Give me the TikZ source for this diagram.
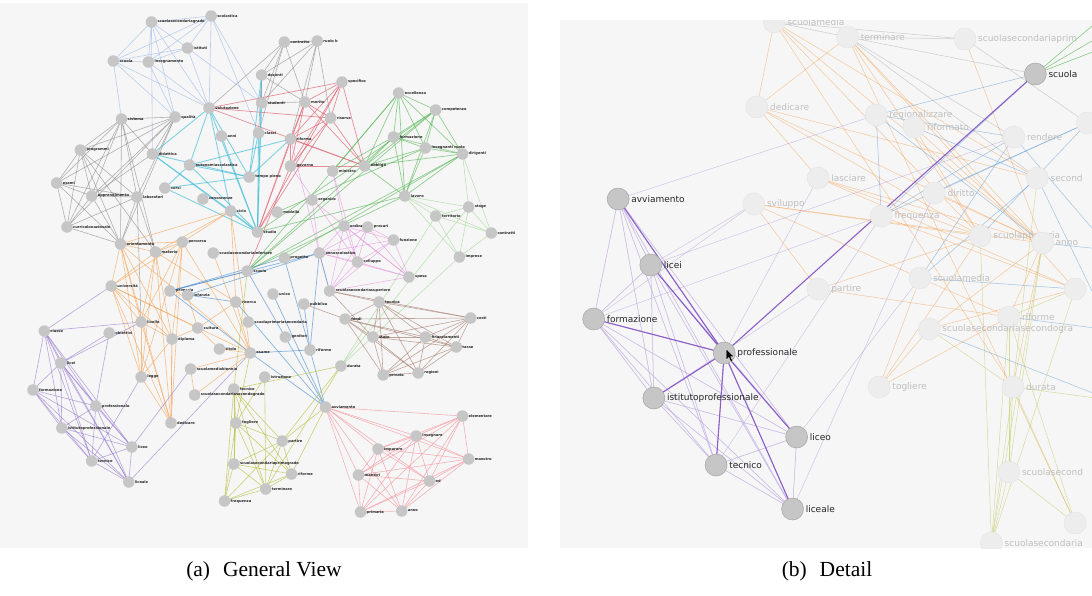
\documentclass[tikz,border=0pt]{standalone}
\usepackage{fontspec}
\setmainfont{Liberation Serif}
\newfontfamily\labfont{DejaVu Sans}
\definecolor{cLB}{HTML}{A8C0E8}
\definecolor{cGR}{HTML}{8A8A8A}
\definecolor{cRD}{HTML}{E06070}
\definecolor{cGN}{HTML}{58B858}
\definecolor{cLG}{HTML}{A8DCA0}
\definecolor{cCY}{HTML}{40BED8}
\definecolor{cPK}{HTML}{E48CDC}
\definecolor{cOR}{HTML}{F5A050}
\definecolor{cBL}{HTML}{4A8ED0}
\definecolor{cBR}{HTML}{A07868}
\definecolor{cPU}{HTML}{9878D0}
\definecolor{cOL}{HTML}{B8C040}
\definecolor{cLR}{HTML}{F4A0A8}
\definecolor{panelbg}{HTML}{F6F6F6}
\definecolor{ngray}{HTML}{C6C6C6}
\definecolor{strongpu}{HTML}{8C5FC8}
\newcommand\clq[2]{\foreach \i in {#2}{\foreach \j in {#2}{\ifnum\i<\j\relax \draw[#1] (a\i) -- (a\j);\fi}}}
\newcommand\prs[2]{\foreach \i/\j in {#2}{\draw[#1] (a\i) -- (a\j);}}
\newcommand\bprs[2]{\foreach \i/\j in {#2}{\draw[#1] (\i) -- (\j);}}
\tikzset{
  eLB/.style={cLB, line width=0.6pt, opacity=0.75},
  eGR/.style={cGR, line width=0.6pt, opacity=0.65},
  eRD/.style={cRD, line width=0.7pt, opacity=0.7},
  eGN/.style={cGN, line width=0.7pt, opacity=0.65},
  eLG/.style={cLG, line width=0.6pt, opacity=0.75},
  eCY/.style={cCY, line width=0.9pt, opacity=0.65},
  ePK/.style={cPK, line width=0.6pt, opacity=0.6},
  eOR/.style={cOR, line width=0.6pt, opacity=0.65},
  eBL/.style={cBL, line width=0.7pt, opacity=0.65},
  eBR/.style={cBR, line width=0.6pt, opacity=0.65},
  ePU/.style={cPU, line width=0.6pt, opacity=0.65},
  eOL/.style={cOL, line width=0.6pt, opacity=0.7},
  eLR/.style={cLR, line width=0.6pt, opacity=0.8},
  an/.style={circle, fill=ngray, inner sep=0pt, minimum size=11.5pt},
  al/.style={anchor=west, inner sep=0pt, font=\labfont\bfseries\fontsize{3.6}{4}\selectfont, text=black!85},
  bn/.style={circle, fill=ngray, draw=black!35, line width=0.5pt, inner sep=0pt, minimum size=22pt},
  bl/.style={anchor=west, inner sep=0pt, font=\labfont\fontsize{9}{10}\selectfont, text=black!85},
  fn/.style={circle, fill=black!7, draw=black!10, line width=0.5pt, inner sep=0pt, minimum size=22pt},
  fl/.style={anchor=west, inner sep=0pt, font=\labfont\fontsize{9}{10}\selectfont, text=black!25},
  strong/.style={strongpu, line width=1.1pt},
  weak/.style={cPU!60, line width=0.5pt, opacity=0.6},
  fOR/.style={cOR, line width=0.5pt, opacity=0.55},
  fBL/.style={cBL, line width=0.5pt, opacity=0.5},
  fGN/.style={cGN, line width=0.6pt, opacity=0.7},
  fOL/.style={cOL, line width=0.5pt, opacity=0.5},
  fGR/.style={cGR, line width=0.5pt, opacity=0.4},
  fPU/.style={cPU, line width=0.5pt, opacity=0.4},
  captext/.style={font=\fontsize{21.5}{25}\selectfont}
}
\def\alist{1/147/22/scuolasecondariagrado, 2/205/16/scolastica, 3/182/48/istituti, 4/110/61/scuola, 5/144/62/insegnamento,
6/276/42/contratto, 7/308/41/ruolo b, 8/254/75/docenti, 9/332/82/specifico, 10/387/93/eccellenza, 11/423/110/competenze,
12/203/108/valutazione, 13/170/117/qualit\`a, 14/118/119/sistema, 15/254/103/studenti, 16/296/102/merito, 17/321/118/risorse,
18/215/136/anni, 19/251/133/classi, 20/282/139/riforma, 21/382/137/formazione, 22/413/148/insegnanti ruolo, 23/449/154/dirigenti,
24/78/150/programmi, 25/148/154/didattica, 26/184/165/autonomiascolastica, 27/282/166/governo, 28/323/171/ministro, 29/354/166/obbligo,
30/242/177/tempo pieno, 31/55/183/esami, 32/89/196/apprendimento, 33/133/197/laboratori, 34/160/188/corsi, 35/197/199/conoscenze,
36/303/200/organico, 37/393/196/lavoro, 38/455/207/stage, 39/423/216/territorio, 40/224/211/ciclo, 41/269/212/modello,
42/65/227/curricolonazionale, 43/250/232/studio, 44/334/226/ordine, 45/357/227/precari, 46/477/233/contratti, 47/117/244/orientamento,
48/177/242/percorso, 49/151/252/materie, 50/207/253/scuolasecondariainferiore, 51/276/258/progetto, 52/310/253/annoscolastico,
53/382/240/funzione, 54/347/262/sviluppo, 55/446/257/imprese, 56/240/271/scuola, 57/397/277/spesa, 58/108/286/universit\`a,
59/165/291/primaria, 60/182/295/infanzia, 61/265/294/unico, 62/320/291/scuolasecondariasuperiore, 63/368/302/tecnica, 64/229/302/ricerca,
65/295/304/pubblica, 66/457/318/costi, 67/137/322/livello, 68/43/331/classe, 69/106/333/obiettivi, 70/192/328/cultura,
71/241/322/scuolaprimariasecondaria, 72/335/319/fondi, 73/167/339/diploma, 74/277/337/genitori, 75/362/337/stato, 76/413/337/finanziamenti,
77/443/347/tasse, 78/213/349/titolo, 79/243/353/esame, 80/301/350/riforme, 81/59/363/licei, 82/331/366/durata, 83/185/369/scuolamediabiennio,
84/137/377/legge, 85/257/377/istruzione, 86/372/375/privata, 87/406/373/regioni, 88/32/390/formazione, 89/227/389/tecnico,
90/189/395/scuolasecondariasecondogrado, 91/93/406/professionale, 92/316/407/avviamento, 93/449/416/elementare, 94/60/428/istitutoprofessionale,
95/166/423/dedicare, 96/229/423/togliere, 97/404/436/insegnare, 98/367/449/imparare, 99/274/441/partire, 100/128/447/liceo,
101/455/459/maestro, 102/89/461/tecnico, 103/227/464/scuolasecondariaprimogrado, 104/283/474/riforme, 105/348/475/maestri,
106/417/481/ed, 107/125/482/liceale, 108/258/489/terminare, 109/218/501/frequenza, 110/350/512/primaria, 111/390/511/anno}
\def\flist{f1/210/22/scuolamedia, f2/282/37/terminare, f3/397/39/scuolasecondariaprim, f4/193/107/dedicare,
f5/310/115/regionalizzare, f6/347/127/riformato, f7/445/137/rendere, f8/517/123/{}, f9/253/178/lasciare, f10/468/178/second,
f11/190/204/sviluppo, f12/367/193/diritto, f13/315/216/frequenza, f14/412/236/scuolaprimaria, f15/473/243/anno,
f16/353/278/scuolamedia, f17/253/289/partire, f18/505/289/{}, f19/440/317/riforme, f20/362/329/scuolasecondariasecondogra,
f21/313/387/togliere, f22/444/387/durata, f23/440/472/scuolasecond, f24/505/523/{}, f25/423/543/scuolasecondaria}
\def\blist{bS/466/74/scuola, bA/57/199/avviamento, bL/89/265/licei, bF/33/319/formazione, bP/161/353/professionale,
bI/92/398/istitutoprofessionale, bO/232/437/liceo, bT/153/465/tecnico, bE/228/509/liceale}
\begin{document}
\begin{tikzpicture}[x=1pt, y=-1pt]
\useasboundingbox (0,0) rectangle (1092,595);
\fill[white] (0,0) rectangle (1092,595);
\fill[panelbg] (0,3) rectangle (528,548);
\fill[panelbg] (560,20) rectangle (1092,548);
% ---------------- panel (a)
\begin{scope}[xscale=1.03]
\foreach \n/\x/\y/\t in \alist {\coordinate (a\n) at (\x,\y);}
\end{scope}
\clq{eLB}{1,2,3,4,5}
\prs{eLB}{1/12,2/12,3/12,4/14,5/13,1/13,3/15,4/12,5/12,2/19,1/25,4/13,2/15}
\clq{eGR}{14,24,31,32,33,42,47,13}
\prs{eGR}{14/49,24/49,33/67,32/25,13/25,14/25,33/49}
\clq{eGR}{6,7,8,15,16}
\prs{eGR}{6/19,7/17,8/19,6/12,7/20}
\clq{eRD}{9,16,17,20,27,29}
\prs{eRD}{9/12,9/43,16/43,20/43,17/12,27/56,29/12,17/43}
\clq{eGN}{10,11,21,22,23,29,37}
\prs{eGN}{10/56,23/56,37/56,11/43,22/41,21/28,37/43,10/28,23/51,11/56,21/56}
\clq{eLG}{38,39,46,55,37}
\prs{eLG}{55/82,39/82,23/38,46/23,38/82}
\prs{eCY}{12/43,25/30,26/30,34/30,12/40,26/43,8/43,19/43,34/43,25/43,12/26,12/25,30/20,26/20,8/30,12/30,15/43,19/30,40/43,34/26,25/40,18/43}
\clq{ePK}{44,45,53,54,57,52,62}
\prs{ePK}{28/44,36/52,28/54,20/52,27/54,36/57}
\clq{eOR}{47,49,58,48,67,73,84,95}
\prs{eOR}{70/78,78/79,64/79,40/79,40/49,48/79,70/73,83/79,90/79,58/79,47/79,40/64,83/90,70/64,95/73,49/64,58/70,48/40,50/79,60/70,47/40}
\prs{eBL}{59/51,59/52,51/80,52/80,80/92,56/92,79/92,64/92,60/52,59/56,79/80,61/92,65/80,52/62,59/79,60/64}
\clq{eBR}{63,72,66,75,76,77,86,87}
\prs{eBR}{62/63,65/72,62/66,62/75}
\clq{ePU}{68,81,88,91,94,100,102,107}
\prs{ePU}{68/58,68/67,107/79,100/83,91/69,81/69,102/84,81/67}
\clq{eOL}{89,96,99,103,104,108,109}
\prs{eOL}{82/89,82/99,85/96,92/104,92/99,82/108,56/89,79/96,85/108}
\clq{eLR}{92,93,97,98,101,105,106,110,111}
\foreach \n/\x/\y/\t in \alist {\node[an] (n\n) at (a\n) {}; \node[al] at ([xshift=6pt]a\n) {\t};}
% ---------------- panel (b)
\begin{scope}
\clip (560,20) rectangle (1092,548);
\begin{scope}[shift={(560,0)}, xscale=1.02]
\foreach \n/\x/\y/\t in \flist {\coordinate (\n) at (\x,\y);}
\foreach \n/\x/\y/\t in \blist {\coordinate (c\n) at (\x,\y);}
\coordinate (g1) at (540,10);
\coordinate (g2) at (540,30);
\coordinate (g3) at (540,45);
\coordinate (g4) at (540,250);
\coordinate (g5) at (540,330);
\coordinate (g6) at (540,400);
\end{scope}
\bprs{fOR}{f4/f1,f4/f2,f4/f15,f4/f14,f4/f9,f4/f10,f1/f15,f1/f14,f1/f10,f1/f22,f2/f15,f2/f14,f2/f24,f2/f18,f11/f17,f11/f16,f11/f14,f11/f15,f21/f19,f21/f16,f21/f20,f21/f14,f17/f19,f16/f19,f20/f15,f9/f14,f9/f15,f12/f15,f6/f15,f13/f18,f3/f15,f17/f14,f20/f18,f19/f15,f22/f15,f6/f14,f9/f18}
\bprs{fBL}{f5/f7,f5/cbS,f5/f13,f13/cbS,f13/f7,f16/f10,f16/f7,f5/f15,f13/f8,f16/f18,f6/f10,f14/f8,f15/g4,f19/g5,f7/g4,f10/g5,f12/f8,f20/g6}
\bprs{fGN}{cbS/g1,cbS/g2,cbS/g3}
\bprs{fOL}{f22/f25,f22/f24,f23/f24,f19/f25,f19/f23,f22/f23,f15/f25,f19/f24,f23/f25,f14/f25,f10/f22,f15/f23,f18/f25,f20/f22,f22/g6,f19/f18}
\bprs{fGR}{f1/f2,f2/f3,f2/f7,f3/f8,f1/f3,f2/f10,f2/cbS}
\bprs{fPU}{cbA/f5,cbL/f7,cbF/f13,cbI/f17,cbO/f16,cbE/f12,cbT/f13,cbL/f11,cbP/f9,cbF/f11}
\foreach \i in {cbA,cbL,cbF,cbP,cbI,cbO,cbT,cbE}{\foreach \j in {cbA,cbL,cbF,cbP,cbI,cbO,cbT,cbE}{\draw[weak] (\i) -- (\j);}}
\bprs{strong}{cbP/cbS,cbP/cbA,cbP/cbL,cbP/cbF,cbP/cbI,cbP/cbO,cbP/cbT,cbP/cbE}
\foreach \n/\x/\y/\t in \flist {\node[fn] (m\n) at (\n) {}; \node[fl] at ([xshift=13pt]\n) {\t};}
\foreach \n/\x/\y/\t in \blist {\node[bn] (\n) at (c\n) {}; \node[bl] at ([xshift=13pt]c\n) {\t};}
\end{scope}
% cursor
\coordinate (cur) at ([shift={(2pt,4pt)}]bP.center);
\fill[black, draw=white, line width=0.3pt] (cur) -- ++(0,11) -- ++(2.6,-2.6) -- ++(2.2,4.6) -- ++(1.8,-0.9) -- ++(-2.2,-4.4) -- ++(3.6,0) -- cycle;
% captions
\node[captext] (capa) at (264,571) {(a)\hspace{0.6em}General View};
\node[captext] (capb) at (827,571) {(b)\hspace{0.6em}Detail};
\end{tikzpicture}
\end{document}
